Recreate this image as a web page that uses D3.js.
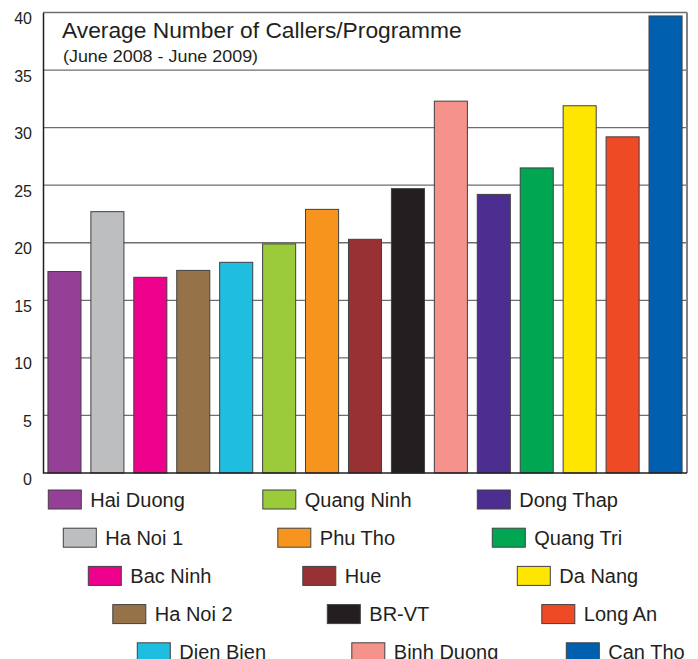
<!DOCTYPE html>
<meta charset="utf-8">
<script src="https://d3js.org/d3.v7.min.js"></script>
<style>
body { margin: 0; background: #fff; }
svg text { font-family: "Liberation Sans", Arial, sans-serif; fill: #231f20; }
</style>
<body>
<div id="canvas"></div>
<script>

// dados
var regions = ["Hai Duong", "Ha Noi 1", "Bac Ninh", "Ha Noi 2", "Dien Bien",
               "Quang Ninh", "Phu Tho", "Hue", "BR-VT", "Binh Duong",
               "Dong Thap", "Quang Tri", "Da Nang", "Long An", "Can Tho"];
var callers = [17.5, 22.7, 17.0, 17.6, 18.3,
               19.9, 22.9, 20.3, 24.7, 32.3,
               24.2, 26.5, 31.9, 29.2, 39.7];
var colors = ["#963f96", "#bcbec0", "#ec008c", "#967249", "#1fbde0",
              "#9bcb3b", "#f7941d", "#983134", "#231f20", "#f4928b",
              "#4c2e90", "#00a651", "#ffe600", "#ef4a26", "#0060af"];
var yTicks = [0, 5, 10, 15, 20, 25, 30, 35, 40];

var width = 698;
var height = 659;

var svg = d3.select('#canvas')
    .append("svg")
    .attr("width", width)
    .attr("height", height);

var margin = {top: 12.5, right: 11, bottom: 186, left: 43};
var w = width - margin.left - margin.right;
var h = height - margin.top - margin.bottom;

var g = svg.append("g")
    .attr("transform", "translate(" + margin.left + "," + margin.top + ")");

// escala Y
var y = d3.scaleLinear()
    .domain([0, 40])
    .range([h, 0]);

// escala X (bandas)
var x = d3.scaleBand()
    .domain(regions)
    .range([0, w])
    .paddingInner(0.23)
    .paddingOuter(0.115);

var color = d3.scaleOrdinal().domain(regions).range(colors);

// linhas de grade
g.selectAll(".grid")
    .data(yTicks.filter(function(d) { return d > 0; }))
    .enter()
    .append("line")
    .attr("x1", 0)
    .attr("x2", w)
    .attr("y1", function(d) { return y(d); })
    .attr("y2", function(d) { return y(d); })
    .attr("stroke", "#6d6e71")
    .attr("stroke-width", 1.3);

// borda direita
g.append("line")
    .attr("x1", w).attr("x2", w)
    .attr("y1", 0).attr("y2", h)
    .attr("stroke", "#808285")
    .attr("stroke-width", 2);

// eixo Y
var yAxis = d3.axisLeft(y).tickValues(yTicks).tickSize(0).tickPadding(11);
var ya = g.append("g").call(yAxis);
ya.select(".domain").attr("stroke", "#231f20").attr("stroke-width", 1.5);
ya.selectAll("text")
    .style("font-size", "16px")
    .attr("dy", "11px")
    .attr("fill", "#231f20");

// titulo (um pouco esticado na horizontal, como no original)
g.append("text")
    .attr("transform", "translate(19,25.5) scale(1.06,1)")
    .style("font-size", "21.5px")
    .text("Average Number of Callers/Programme");
g.append("text")
    .attr("transform", "translate(20,49.5) scale(1.12,1)")
    .style("font-size", "16px")
    .text("(June 2008 - June 2009)");

// barras
g.selectAll(".bar")
    .data(regions)
    .enter()
    .append("rect")
    .attr("x", function(d) { return x(d); })
    .attr("width", x.bandwidth())
    .attr("y", function(d, i) { return y(callers[i]); })
    .attr("height", function(d, i) { return h - y(callers[i]); })
    .attr("fill", function(d) { return color(d); })
    .attr("stroke", "#414042")
    .attr("stroke-width", 1);

// eixo X (linha base)
g.append("line")
    .attr("x1", 0).attr("x2", w)
    .attr("y1", h).attr("y2", h)
    .attr("stroke", "#231f20")
    .attr("stroke-width", 1.5);

// legenda: 3 colunas, 5 linhas escalonadas
var rowShift = [0, 15, 40, 64.5, 89];
var legend = svg.selectAll(".legend")
    .data(regions)
    .enter()
    .append("g")
    .attr("transform", function(d, i) {
        var col = Math.floor(i / 5), row = i % 5;
        return "translate(" + (48.3 + col * 214.5 + rowShift[row]) + "," + (490 + row * 38.2) + ")";
    });

legend.append("rect")
    .attr("width", 33)
    .attr("height", 19)
    .attr("fill", function(d) { return color(d); })
    .attr("stroke", "#414042")
    .attr("stroke-width", 1);

legend.append("text")
    .attr("x", 42)
    .attr("y", 16.5)
    .style("font-size", "20px")
    .text(function(d) { return d; });

</script>
</body>
